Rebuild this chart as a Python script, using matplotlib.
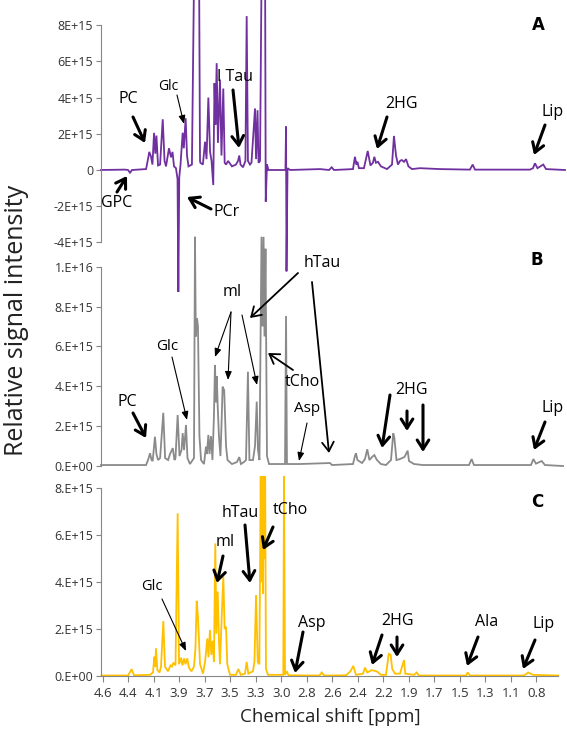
import numpy as np
import matplotlib
matplotlib.use("Agg")
import matplotlib.pyplot as plt

plt.rcParams['font.family'] = ['Open Sans', 'DejaVu Sans']

# spectra: chemical shift (ppm) and intensity (x 1E+15)
a_ppm = [4.615, 4.405, 4.378, 4.361, 4.343, 4.220, 4.203, 4.192, 4.177, 4.164, 4.150, 4.139, 4.129,
         4.115, 4.097, 4.074, 4.058, 4.045, 4.019, 4.001, 3.988, 3.975, 3.958, 3.944, 3.937, 3.929,
         3.918, 3.899, 3.889, 3.873, 3.861, 3.848, 3.818, 3.797, 3.756, 3.747, 3.744, 3.722, 3.703,
         3.690, 3.674, 3.659, 3.646, 3.631, 3.620, 3.612, 3.601, 3.590, 3.572, 3.559, 3.543, 3.531,
         3.519, 3.501, 3.467, 3.432, 3.414, 3.403, 3.392, 3.370, 3.349, 3.338, 3.327, 3.309, 3.296,
         3.265, 3.256, 3.243, 3.234, 3.221, 3.206, 3.177, 3.171, 3.160, 3.147, 2.998, 2.993, 2.989,
         2.980, 2.958, 2.695, 2.616, 2.593, 2.573, 2.406, 2.389, 2.376, 2.367, 2.354, 2.310, 2.277,
         2.253, 2.231, 2.219, 2.205, 2.187, 2.161, 2.108, 2.064, 2.047, 2.029, 2.012, 1.994, 1.979,
         1.959, 1.941, 1.920, 1.889, 1.819, 1.644, 1.381, 1.357, 1.337, 0.855, 0.828, 0.811, 0.789,
         0.738, 0.714, 0.548]
a_int = [0.0, 0.02, 0.0, -0.15, 0.0, 0.05, 0.6, 1.0, 0.75, 0.3, 2.05, 0.9, 1.9,
         0.25, 0.3, 2.8, 0.5, 0.2, 1.2, 0.7, 1.0, 0.2, 0.1, -0.5, -6.74, -0.4,
         0.3, 2.06, 1.2, 2.86, 0.8, 0.2, 0.3, 12.0, 12.0, 0.5, 0.4, 0.3, 1.56,
         0.6, 4.0, 1.0, 0.5, -0.83, 4.8, 2.5, 5.9, 1.5, 5.0, 0.8, 4.5, 0.4,
         0.3, 0.5, 0.2, 0.3, 0.5, 0.8, 0.3, 0.15, 0.5, 8.5, 0.5, 0.3, 0.4,
         3.4, 0.6, 3.3, 0.4, 0.5, 12.0, 12.0, -1.75, 0.3, 0.0, 0.0, 2.4, -5.6,
         0.1, 0.0, 0.05, 0.0, 0.15, 0.0, 0.05, 0.73, 0.3, 0.45, 0.1, 0.1, 1.05,
         0.25, 0.4, 0.73, 0.4, 0.45, 0.2, 0.05, 0.3, 1.88, 0.8, 0.3, 0.5, 0.55,
         0.45, 0.6, 0.2, 0.05, 0.1, 0.05, 0.02, 0.3, 0.02, 0.02, 0.1, 0.37, 0.1,
         0.3, 0.05, 0.0]

b_ppm = [4.615, 4.220, 4.203, 4.185, 4.172, 4.162, 4.142, 4.129, 4.115, 4.097, 4.069, 4.053, 4.027,
         4.010, 3.986, 3.971, 3.962, 3.943, 3.927, 3.909, 3.899, 3.887, 3.870, 3.857, 3.835, 3.800,
         3.791, 3.784, 3.773, 3.765, 3.752, 3.738, 3.712, 3.695, 3.686, 3.674, 3.664, 3.651, 3.638,
         3.625, 3.616, 3.607, 3.600, 3.592, 3.581, 3.568, 3.559, 3.549, 3.535, 3.519, 3.506, 3.467,
         3.423, 3.403, 3.388, 3.362, 3.344, 3.327, 3.314, 3.283, 3.265, 3.250, 3.239, 3.226, 3.208,
         3.199, 3.190, 3.182, 3.173, 3.160, 3.142, 3.002, 2.993, 2.985, 2.871, 2.608, 2.590, 2.406,
         2.389, 2.380, 2.367, 2.327, 2.301, 2.281, 2.262, 2.240, 2.219, 2.196, 2.161, 2.117, 2.073,
         2.053, 2.044, 2.025, 1.994, 1.976, 1.955, 1.927, 1.915, 1.871, 1.793, 1.731, 1.389, 1.366,
         1.346, 0.846, 0.825, 0.802, 0.752, 0.723, 0.565]
b_int = [0.05, 0.05, 0.3, 0.64, 0.3, 0.25, 1.47, 0.6, 0.3, 0.4, 2.67, 0.4, 0.3,
         0.6, 0.9, 0.3, 0.4, 2.56, 0.5, 0.8, 1.65, 0.8, 2.06, 0.4, 0.1, 0.4,
         11.5, 6.5, 7.4, 7.0, 1.5, 0.3, 0.1, 0.97, 0.6, 1.56, 0.6, 1.5, 0.3,
         2.5, 5.07, 3.2, 4.5, 3.0, 1.5, 0.5, 2.0, 3.98, 3.8, 1.0, 0.3, 0.1,
         0.2, 0.45, 0.1, 0.2, 0.3, 4.73, 0.3, 0.3, 1.0, 3.23, 0.8, 0.3, 11.5,
         7.0, 11.5, 6.5, 10.9, 0.5, 0.1, 0.1, 7.53, 0.1, 0.1, 0.15, 0.05, 0.1,
         0.5, 0.64, 0.3, 0.15, 0.35, 0.84, 0.3, 0.45, 0.55, 0.3, 0.1, 0.05, 0.3,
         1.64, 1.45, 0.3, 0.35, 0.4, 0.45, 0.77, 0.25, 0.1, 0.05, 0.05, 0.05, 0.35,
         0.05, 0.05, 0.35, 0.12, 0.25, 0.05, 0.0]

c_ppm = [4.609, 4.378, 4.346, 4.326, 4.185, 4.159, 4.148, 4.140, 4.133, 4.121, 4.102, 4.089, 4.069,
         4.054, 4.028, 4.006, 3.993, 3.981, 3.962, 3.943, 3.931, 3.914, 3.901, 3.887, 3.874, 3.859,
         3.844, 3.822, 3.800, 3.787, 3.776, 3.765, 3.747, 3.721, 3.703, 3.695, 3.683, 3.673, 3.660,
         3.648, 3.636, 3.625, 3.613, 3.604, 3.592, 3.581, 3.572, 3.557, 3.543, 3.531, 3.519, 3.508,
         3.484, 3.432, 3.411, 3.390, 3.353, 3.338, 3.324, 3.283, 3.270, 3.256, 3.241, 3.227, 3.215,
         3.208, 3.201, 3.195, 3.188, 3.182, 3.176, 3.169, 3.151, 3.017, 3.011, 3.002, 2.987, 2.971,
         2.700, 2.680, 2.660, 2.467, 2.428, 2.404, 2.380, 2.318, 2.301, 2.281, 2.243, 2.198, 2.161,
         2.117, 2.093, 2.076, 2.062, 2.038, 1.994, 1.959, 1.948, 1.871, 1.848, 1.828, 1.416, 1.401,
         1.381, 0.907, 0.870, 0.828, 0.607]
c_int = [0.02, 0.02, 0.29, 0.03, 0.05, 0.15, 0.82, 0.4, 1.18, 0.25, 0.15, 0.4, 2.34,
         0.4, 0.2, 0.45, 0.4, 0.57, 0.45, 6.93, 0.5, 0.78, 0.45, 0.75, 0.5, 0.75,
         0.35, 0.2, 0.4, 1.2, 3.2, 2.5, 0.5, 0.1, 0.6, 1.0, 1.6, 0.8, 1.96,
         0.9, 1.5, 0.6, 5.65, 1.8, 3.6, 1.5, 0.5, 2.5, 4.23, 2.0, 2.1, 0.5,
         0.05, 0.05, 0.3, 0.05, 0.1, 0.6, 0.1, 0.2, 0.6, 3.45, 0.6, 0.5, 8.52,
         4.0, 8.52, 3.5, 8.52, 5.0, 8.52, 0.3, 0.05, 0.05, 8.52, 0.05, 0.2, 0.03,
         0.02, 0.15, 0.02, 0.03, 0.2, 0.43, 0.05, 0.1, 0.36, 0.15, 0.25, 0.2, 0.05,
         0.05, 0.94, 0.9, 0.3, 0.1, 0.1, 0.68, 0.1, 0.05, 0.15, 0.02, 0.02, 0.15,
         0.02, 0.02, 0.15, 0.05, 0.02]

x_labels = ['4.6', '4.4', '4.1', '3.9', '3.7', '3.5', '3.3', '3.0', '2.8', '2.6', '2.4', '2.2',
            '1.9', '1.7', '1.5', '1.3', '1.1', '0.8']
a_ticks = [-4, -2, 0, 2, 4, 6, 8]
a_ticklabels = ['-4E+15', '-2E+15', '0', '2E+15', '4E+15', '6E+15', '8E+15']
b_ticks = [0, 2, 4, 6, 8, 10]
b_ticklabels = ['0.E+00', '2.E+15', '4.E+15', '6.E+15', '8.E+15', '1.E+16']
c_ticks = [0, 2, 4, 6, 8]
c_ticklabels = ['0.E+00', '2.E+15', '4.E+15', '6.E+15', '8.E+15']

W, H = 567, 732
fig = plt.figure(figsize=(W / 100, H / 100), dpi=100)


def px_axes(top, bottom, left=101, right=558):
    return fig.add_axes([left / W, 1 - bottom / H, (right - left) / W, (bottom - top) / H])


axA = px_axes(0, 242.4)
axB = px_axes(236.8, 472)
axC = px_axes(476, 676)

panels = [
    (axA, a_ppm, a_int, '#7030A0', (-4, 9.39), a_ticks, a_ticklabels),
    (axB, b_ppm, b_int, '#8A8A8A', (-0.3, 11.5), b_ticks, b_ticklabels),
    (axC, c_ppm, c_int, '#FFC000', (0, 8.52), c_ticks, c_ticklabels),
]
for ax, xs, ys, col, lim, ticks, labels in panels:
    ax.patch.set_visible(False)
    ax.plot(xs, ys, color=col, lw=1.3, clip_on=False, solid_joinstyle='miter')
    ax.set_xlim(4.615, 0.609)
    ax.set_ylim(*lim)
    for s in ['top', 'right', 'bottom']:
        ax.spines[s].set_visible(False)
    ax.spines['left'].set_color('#868686')
    ax.spines['left'].set_bounds(ticks[0], ticks[-1])
    ax.set_yticks(ticks)
    ax.set_yticklabels(labels)
    ax.tick_params(axis='y', direction='out', length=3.5, width=0.8, color='#868686',
                   labelsize=9, labelcolor='#333333', pad=2)
    ax.set_xticks([])

axC.spines['bottom'].set_visible(True)
axC.spines['bottom'].set_color('#868686')
axC.spines['bottom'].set_position(('data', 0))
axC.set_xticks(np.linspace(4.6, 0.8, len(x_labels)))
axC.set_xticklabels(x_labels)
axC.tick_params(axis='x', direction='out', length=4, width=0.8, color='#868686',
                labelsize=9.5, labelcolor='#333333', pad=4)

fig.text(17 / W, 1 - 320 / H, 'Relative signal intensity', rotation=90, fontsize=18,
         ha='center', va='center', color='#222222')
fig.text(330 / W, 1 - 717 / H, 'Chemical shift [ppm]', fontsize=13.5,
         ha='center', va='center', color='#222222')

# overlay in pixel units for the labels and arrows
ov = fig.add_axes([0, 0, 1, 1])
ov.set_xlim(0, W)
ov.set_ylim(H, 0)
ov.axis('off')
ov.patch.set_visible(False)

labels = [
    ('PC', 128, 99, 11.5), ('GPC', 117, 203, 11.5), ('Glc', 168, 87, 10), ('PCr', 227, 212, 11.5),
    ('I Tau', 235, 77, 11.5), ('2HG', 402, 104, 11.5), ('Lip', 553, 112, 11.5),
    ('PC', 127, 402, 11.5), ('Glc', 167, 347, 11), ('mI', 232, 292, 11.5), ('hTau', 322, 263, 11.5),
    ('tCho', 302, 382, 11.5), ('Asp', 307, 408, 11), ('2HG', 412, 390, 11.5), ('Lip', 553, 408, 11.5),
    ('Glc', 152, 587, 10.5), ('mI', 225, 542, 11.5), ('hTau', 240, 513, 11.5), ('tCho', 290, 510, 11.5),
    ('Asp', 312, 623, 11.5), ('2HG', 397, 621, 11.5), ('Ala', 487, 622, 11.5), ('Lip', 544, 624, 11.5),
]
for t, x, y, fs in labels:
    ov.text(x, y, t, fontsize=fs, ha='center', va='center', color='black')

for t, x, y in [('A', 538, 25), ('B', 537, 260), ('C', 537, 502)]:
    ov.text(x, y, t, fontsize=12, fontweight='bold', ha='center', va='center', family='Arial')

thick = [
    ((133, 117), (145, 143)), ((117, 192), (127, 176)), ((211, 209), (187, 197)),
    ((233, 90), (239, 148)), ((387, 117), (377, 149)), ((545, 125), (534, 155)),
    ((133, 413), (146, 438)), ((390, 395), (382, 448)), ((407, 411), (407, 431)),
    ((423, 405), (423, 452)), ((545, 422), (534, 450)),
    ((223, 556), (217, 583)), ((245, 525), (250, 583)), ((273, 527), (263, 550)),
    ((303, 632), (295, 673)), ((382, 635), (372, 665)), ((397, 637), (397, 657)),
    ((478, 637), (467, 666)), ((535, 640), (523, 669)),
]
for tail, head in thick:
    ov.annotate('', xy=head, xytext=tail,
                arrowprops=dict(arrowstyle='->,head_length=0.55,head_width=0.35', lw=2.2,
                                color='black', shrinkA=0, shrinkB=0, mutation_scale=12))

mid = [((298, 273), (250, 318)), ((312, 282), (329, 453)), ((293, 370), (268, 353))]
for tail, head in mid:
    ov.annotate('', xy=head, xytext=tail,
                arrowprops=dict(arrowstyle='->,head_length=0.55,head_width=0.35', lw=1.3,
                                color='black', shrinkA=0, shrinkB=0, mutation_scale=12))

thin = [
    ((177, 95), (184, 124)), ((172, 357), (187, 420)), ((231, 312), (215, 357)),
    ((231, 312), (228, 380)), ((242, 315), (257, 385)), ((307, 423), (299, 461)),
    ((162, 599), (186, 651)),
]
for tail, head in thin:
    ov.annotate('', xy=head, xytext=tail,
                arrowprops=dict(arrowstyle='-|>,head_length=0.5,head_width=0.2', lw=0.8,
                                color='black', shrinkA=0, shrinkB=0, mutation_scale=10))

fig.savefig('out.png', dpi=100)
